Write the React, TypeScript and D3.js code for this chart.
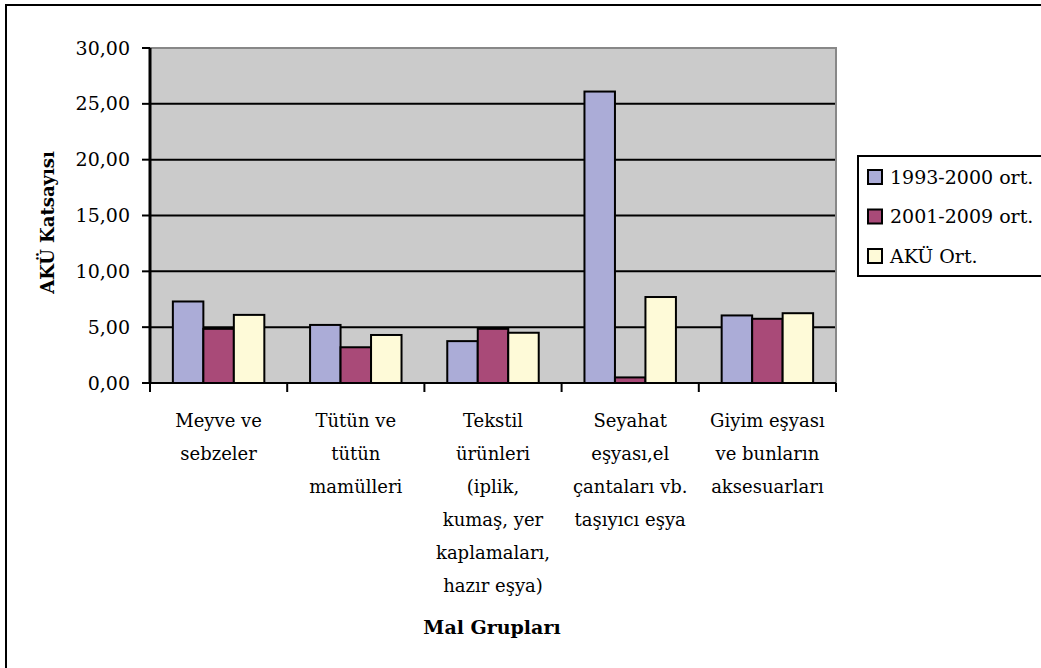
import React from 'react';
import * as d3 from 'd3';

const categories = [
  ['Meyve ve', 'sebzeler'],
  ['Tütün ve', 'tütün', 'mamülleri'],
  ['Tekstil', 'ürünleri', '(iplik,', 'kumaş, yer', 'kaplamaları,', 'hazır eşya)'],
  ['Seyahat', 'eşyası,el', 'çantaları vb.', 'taşıyıcı eşya'],
  ['Giyim eşyası', 've bunların', 'aksesuarları'],
];
const seriesNames = ['1993-2000 ort.', '2001-2009 ort.', 'AKÜ Ort.'];
const avg9300 = [7.3, 5.2, 3.75, 26.1, 6.05];
const avg0109 = [4.85, 3.2, 4.85, 0.5, 5.75];
const akuAvg = [6.1, 4.3, 4.5, 7.7, 6.25];
const yTicks = [0, 5, 10, 15, 20, 25, 30];

const colors = ['#abacd7', '#a94a78', '#fefad8'];
const font = "'DejaVu Serif', serif";

const W = 1041;
const H = 668;
const plot = { left: 150, right: 836, top: 48, bottom: 383 };

const App = () => {
  const series = [avg9300, avg0109, akuAvg];
  const x = d3
    .scaleBand<number>()
    .domain(d3.range(categories.length))
    .range([plot.left, plot.right]);
  const barW = x.bandwidth() / 4.5; // gap width 150%
  const inner = d3
    .scaleBand<number>()
    .domain(d3.range(series.length))
    .range([0.75 * barW, x.bandwidth() - 0.75 * barW]);
  const y = d3.scaleLinear().domain([0, 30]).range([plot.bottom, plot.top]);
  const fmt = (v: number) => d3.format('.2f')(v).replace('.', ',');
  const txt = { fontFamily: font, fill: '#000' };

  return (
    <svg
      width={W}
      height={H}
      style={{ position: 'absolute', left: 0, top: 0, background: '#fff' }}
    >
      <rect x={6} y={5} width={1100} height={700} fill="#fff" stroke="#000" strokeWidth={2} />
      <rect
        x={plot.left}
        y={plot.top}
        width={plot.right - plot.left}
        height={plot.bottom - plot.top}
        fill="#cbcbcb"
        stroke="#888"
        strokeWidth={2}
      />
      {yTicks.map(t => (
        <g key={t}>
          {t > 0 && t < 30 && (
            <line x1={plot.left} x2={plot.right - 1} y1={y(t)} y2={y(t)} stroke="#000" strokeWidth={2} />
          )}
          <line x1={plot.left - 8} x2={plot.left} y1={y(t)} y2={y(t)} stroke="#000" strokeWidth={2} />
          <text x={plot.left - 20} y={y(t)} dy="0.35em" textAnchor="end" fontSize={19} style={txt}>
            {fmt(t)}
          </text>
        </g>
      ))}
      {series.map((vals, s) =>
        vals.map((v, i) => (
          <rect
            key={`${s}-${i}`}
            x={(x(i) as number) + (inner(s) as number)}
            y={y(v)}
            width={inner.bandwidth()}
            height={y(0) - y(v)}
            fill={colors[s]}
            stroke="#000"
            strokeWidth={2}
          />
        ))
      )}
      <line x1={plot.left} x2={plot.left} y1={plot.top} y2={plot.bottom} stroke="#000" strokeWidth={3} />
      <line x1={plot.left - 1} x2={plot.right} y1={plot.bottom} y2={plot.bottom} stroke="#000" strokeWidth={2} />
      {d3.range(categories.length + 1).map(i => {
        const px = plot.left + i * x.step();
        return <line key={i} x1={px} x2={px} y1={plot.bottom} y2={plot.bottom + 9} stroke="#000" strokeWidth={2} />;
      })}
      {categories.map((lines, i) => (
        <text
          key={i}
          x={(x(i) as number) + x.bandwidth() / 2}
          y={427}
          textAnchor="middle"
          fontSize={18}
          style={txt}
        >
          {lines.map((l, j) => (
            <tspan key={j} x={(x(i) as number) + x.bandwidth() / 2} dy={j === 0 ? 0 : 33}>
              {l}
            </tspan>
          ))}
        </text>
      ))}
      <text
        transform={`translate(54,${(plot.top + plot.bottom) / 2 + 7}) rotate(-90)`}
        textAnchor="middle"
        fontSize={18}
        fontWeight="bold"
        style={txt}
      >
        AKÜ Katsayısı
      </text>
      <text x={492} y={634} textAnchor="middle" fontSize={19} fontWeight="bold" style={txt}>
        Mal Grupları
      </text>
      <g>
        <rect x={858} y={156} width={200} height={120} fill="#fff" stroke="#000" strokeWidth={2} />
        {seriesNames.map((n, s) => (
          <g key={n} transform={`translate(0,${177 + s * 39.5})`}>
            <rect x={868} y={-7} width={14} height={14} fill={colors[s]} stroke="#000" strokeWidth={2} />
            <text x={890} y={0} dy="0.35em" fontSize={19} style={txt}>
              {n}
            </text>
          </g>
        ))}
      </g>
    </svg>
  );
};

export default App;
